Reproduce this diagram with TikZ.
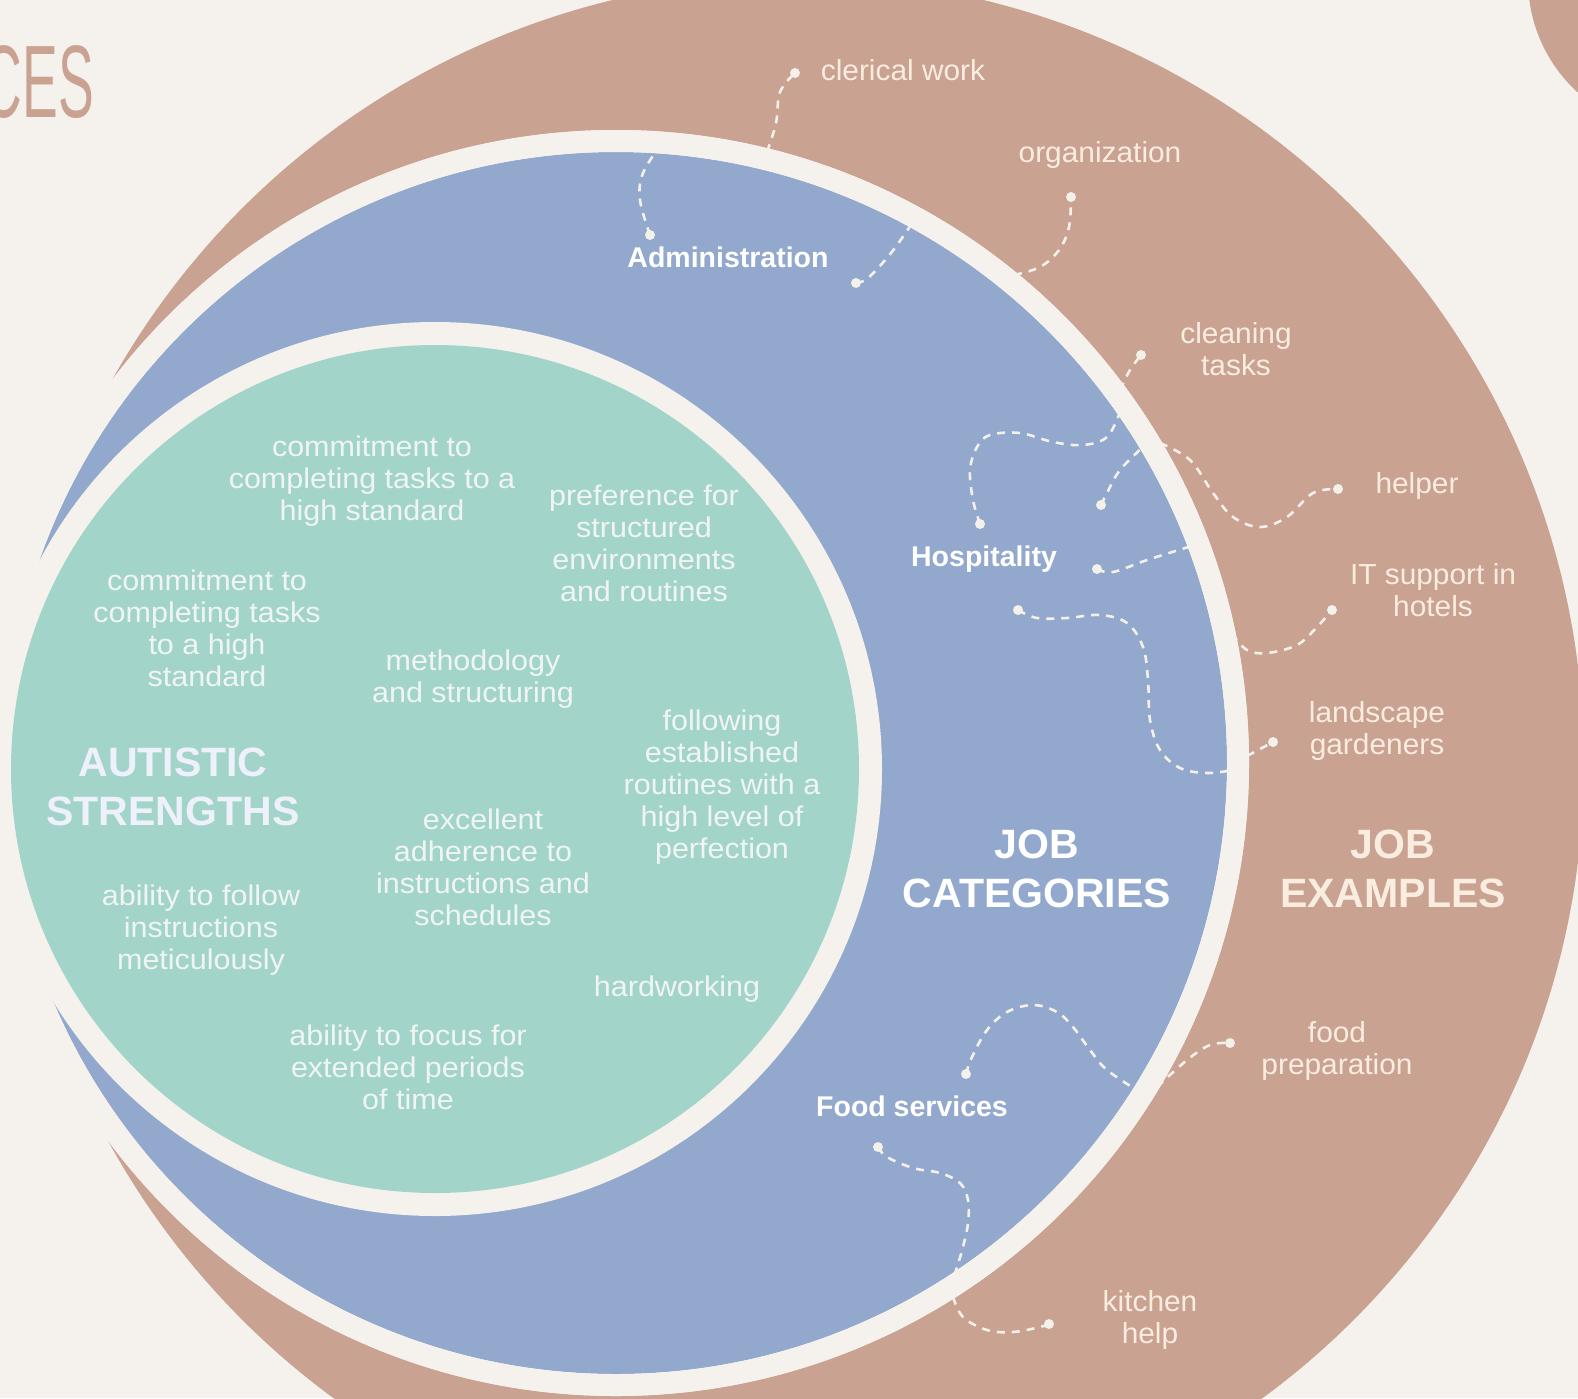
\documentclass[tikz,border=0pt]{standalone}
\usepackage{fontspec}
\setmainfont{Liberation Sans}
\newfontfamily\titlefont[FakeStretch=0.52]{Liberation Sans}
\newfontfamily\mintfont[FakeStretch=1.07]{Liberation Sans}
\newfontfamily\sandfont[FakeStretch=1.03]{Liberation Sans}
\definecolor{cream}{HTML}{F5F2EE}
\definecolor{clay}{HTML}{C9A291}
\definecolor{sky}{HTML}{93A8CD}
\definecolor{mint}{HTML}{A3D4CA}
\definecolor{sand}{HTML}{F9EDE0}
\definecolor{linkcol}{HTML}{F4F0EA}
\definecolor{mintink}{HTML}{F0F5F4}
\definecolor{lilac}{HTML}{EEF0FB}
\tikzset{
  strength/.style={align=center, inner sep=0pt, text=mintink, font=\mintfont\fontsize{28.5}{32}\selectfont},
  example/.style={align=center, inner sep=0pt, text=sand, font=\sandfont\fontsize{29}{32}\selectfont},
  category/.style={inner sep=0pt, text=white, font=\bfseries\fontsize{28.5}{32}\selectfont},
  heading/.style={align=center, inner sep=0pt, font=\bfseries\fontsize{41}{49}\selectfont},
  link/.style={draw=linkcol, line width=2.6pt, dash pattern=on 8pt off 7pt},
  dot/.style={circle, fill=linkcol, inner sep=0pt, minimum size=10pt},
}
\begin{document}
\begin{tikzpicture}[x=1pt,y=-1pt]
  \fill[cream] (0,0) rectangle (1578,1398);
  \useasboundingbox (0,0) rectangle (1578,1398);
  \begin{scope}
    \clip (0,0) rectangle (1578,1398);
    \fill[clay] (798,764) circle[radius=786pt];
    \fill[clay] (1680,-20) circle[radius=152pt];
    \fill[cream] (616,763) circle[radius=633pt];
    \fill[sky] (616,763) circle[radius=611pt];
    \fill[cream] (435,769) circle[radius=447pt];
    \fill[mint] (435,769) circle[radius=424pt];
  \end{scope}

  \node[anchor=base east, inner sep=0pt, text=clay, font=\titlefont\fontsize{103}{103}\selectfont] (ces) at (94,117) {CES};

  % strengths
  \node[strength] (s1) at (372,481) {commitment to\\completing tasks to a\\high standard};
  \node[strength] (s2) at (644,543) {preference for\\structured\\environments\\and routines};
  \node[strength] (s3) at (207,628) {commitment to\\completing tasks\\to a high\\standard};
  \node[strength] (s4) at (473,679) {methodology\\and structuring};
  \node[strength] (s5) at (722,787) {following\\established\\routines with a\\high level of\\perfection};
  \node[strength] (s6) at (483,867) {excellent\\adherence to\\instructions and\\schedules};
  \node[strength] (s7) at (201,930) {ability to follow\\instructions\\meticulously};
  \node[strength] (s8) at (677,989) {hardworking};
  \node[strength] (s9) at (408,1067) {ability to focus for\\extended periods\\of time};
  \node[heading, text=lilac] (strengths) at (173,787) {AUTISTIC\\STRENGTHS};

  % categories and examples
  \node[category] (admin) at (728,257) {Administration};
  \node[category] (hosp) at (984,559) {Hospitality};
  \node[category] (food) at (912,1106) {Food services};
  \node[heading, text=white] (categories) at (1037,869) {JOB\\CATEGORIES};
  \node[heading, text=sand] (examples) at (1393,869) {JOB\\EXAMPLES};

  \node[example] (clerical) at (903,70) {clerical work};
  \node[example] (organ) at (1100,155) {organization};
  \node[example] (cleaning) at (1236,349) {cleaning\\tasks};
  \node[example] (helper) at (1417,486) {helper};
  \node[example] (itsupport) at (1433,590) {IT support in\\hotels};
  \node[example] (landscape) at (1377,731) {landscape\\gardeners};
  \node[example] (foodprep) at (1337,1051) {food\\preparation};
  \node[example] (kitchen) at (1150,1320) {kitchen\\help};

  % dots
  \node[dot] (admA) at (650,235) {};
  \node[dot] (admB) at (856,283) {};
  \node[dot] (hospA) at (980,524) {};
  \node[dot] (hospB) at (1101,505) {};
  \node[dot] (hospC) at (1097,569) {};
  \node[dot] (hospD) at (1018,610) {};
  \node[dot] (foodA) at (966,1074) {};
  \node[dot] (foodB) at (878,1147) {};
  \node[dot] (clerD) at (795,73) {};
  \node[dot] (orgD) at (1071,197) {};
  \node[dot] (cleanD) at (1141,355) {};
  \node[dot] (helpD) at (1338,489) {};
  \node[dot] (itD) at (1332,610) {};
  \node[dot] (landD) at (1273,742) {};
  \node[dot] (prepD) at (1230,1043) {};
  \node[dot] (kitD) at (1049,1324) {};

  % ends under the ring
  \coordinate (r1a) at (662,143);   \coordinate (r1b) at (767,152);
  \coordinate (r2a) at (913,222);   \coordinate (r2b) at (1014,275);
  \coordinate (r3a) at (1120,412);  \coordinate (r3b) at (1120,390);
  \coordinate (r4a) at (1145,445);  \coordinate (r4b) at (1160,443);
  \coordinate (r5a) at (1195,545);  \coordinate (r5b) at (1232,634);
  \coordinate (r6a) at (1233,770);  \coordinate (r6b) at (1247,756);
  \coordinate (r7a) at (1140,1092); \coordinate (r7b) at (1157,1087);
  \coordinate (r8a) at (953,1280);  \coordinate (r8b) at (953,1297);

  \draw[link] plot[smooth, tension=0.6] coordinates {(admA) (640,200) (643,173) (r1a)};
  \draw[link] plot[smooth, tension=0.6] coordinates {(r1b) (776,123) (780,92) (clerD)};
  \draw[link] plot[smooth, tension=0.6] coordinates {(admB) (868,278) (891,253) (r2a)};
  \draw[link] plot[smooth, tension=0.6] coordinates {(r2b) (1040,267) (1059,250) (1069,227) (orgD)};
  \draw[link] plot[smooth, tension=0.6] coordinates {(hospA) (973,500) (970,470) (977,447) (990,435) (1020,433) (1053,442) (1083,445) (1107,437) (r3a)};
  \draw[link] plot[smooth, tension=0.6] coordinates {(r3b) (1130,370) (cleanD)};
  \draw[link] plot[smooth, tension=0.6] coordinates {(hospB) (1107,493) (1120,470) (r4a)};
  \draw[link] plot[smooth, tension=0.6] coordinates {(r4b) (1190,460) (1213,493) (1233,517) (1260,527) (1287,517) (1313,493) (helpD)};
  \draw[link] plot[smooth, tension=0.6] coordinates {(hospC) (1113,572) (1147,560) (r5a)};
  \draw[link] plot[smooth, tension=0.6] coordinates {(r5b) (1247,650) (1267,653) (1297,645) (1317,627) (itD)};
  \draw[link] plot[smooth, tension=0.6] coordinates {(hospD) (1037,618) (1067,618) (1100,615) (1127,623) (1143,647) (1148,680) (1150,720) (1160,750) (1180,768) (1207,773) (r6a)};
  \draw[link] plot[smooth, tension=0.6] coordinates {(r6b) (landD)};
  \draw[link] plot[smooth, tension=0.6] coordinates {(foodA) (972,1057) (987,1030) (1007,1012) (1033,1005) (1057,1012) (1073,1027) (1090,1050) (1107,1070) (r7a)};
  \draw[link] plot[smooth, tension=0.6] coordinates {(r7b) (1187,1060) (1210,1045) (prepD)};
  \draw[link] plot[smooth, tension=0.6] coordinates {(foodB) (887,1157) (913,1168) (940,1173) (960,1183) (968,1200) (968,1223) (963,1247) (957,1267) (r8a)};
  \draw[link] plot[smooth, tension=0.6] coordinates {(r8b) (963,1317) (987,1330) (1013,1332) (1040,1327) (kitD)};

  % ring over the link ends
  \draw[cream, line width=22pt] (616,763) circle[radius=622pt];
\end{tikzpicture}
\end{document}
